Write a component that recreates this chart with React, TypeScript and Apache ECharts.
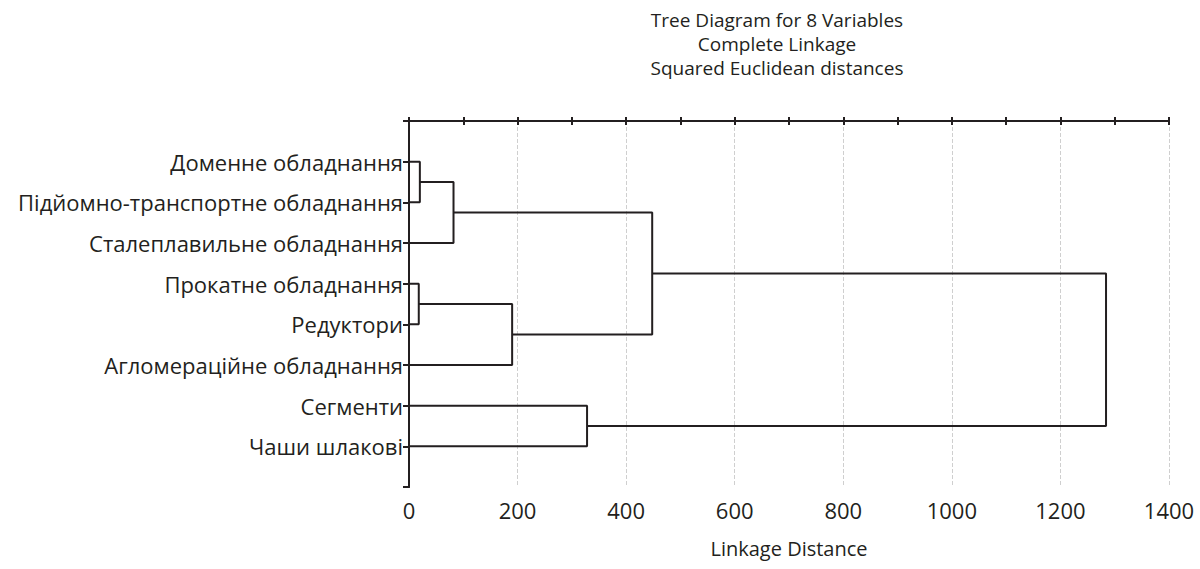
import React, { useEffect, useRef } from "react";
import * as echarts from "echarts";

const leafLabels = [
  "Доменне обладнання",
  "Підйомно-транспортне обладнання",
  "Сталеплавильне обладнання",
  "Прокатне обладнання",
  "Редуктори",
  "Агломераційне обладнання",
  "Сегменти",
  "Чаши шлакові",
];
// [clusterA, clusterB, linkage distance]; ids >= 8 refer to earlier merges
const mergeLeft = [0, 8, 3, 10, 9, 6, 12];
const mergeRight = [1, 2, 4, 5, 11, 7, 13];
const mergeHeight = [20, 82, 18, 190, 448, 328, 1284];
const xTicks = [0, 200, 400, 600, 800, 1000, 1200, 1400];
const titleLines = ["Tree Diagram for 8 Variables", "Complete Linkage", "Squared Euclidean distances"];
const xName = "Linkage Distance";

const INK = "#231f20";
const FONT = "Open Sans";

export default function App() {
  const ref = useRef<HTMLDivElement>(null);
  useEffect(() => {
    if (!ref.current) return;
    const chart = echarts.init(ref.current, null, { renderer: "svg" });
    const n = leafLabels.length;
    const pos: [number, number][] = leafLabels.map((_, i) => [0, i + 1]);
    const series: any[] = [];
    mergeHeight.forEach((h, k) => {
      const a = pos[mergeLeft[k]];
      const b = pos[mergeRight[k]];
      series.push({
        type: "line",
        symbol: "none",
        silent: true,
        xAxisIndex: 0,
        yAxisIndex: 0,
        lineStyle: { color: INK, width: 2 },
        data: [
          [a[0], a[1]],
          [h, a[1]],
          [h, b[1]],
          [b[0], b[1]],
        ],
      });
      pos.push([h, (a[1] + b[1]) / 2]);
    });
    const xMin = xTicks[0];
    const xMax = xTicks[xTicks.length - 1];
    const interval = xTicks[1] - xTicks[0];
    chart.setOption({
      animation: false,
      title: titleLines.map((t, i) => ({
        text: t,
        left: 777,
        top: 9 + i * 24,
        padding: 0,
        textAlign: "center",
        textStyle: { fontFamily: FONT, fontSize: 19, fontWeight: "normal", color: INK, lineHeight: 21 },
      })),
      grid: { left: 409, right: 31, top: 121, bottom: 82, containLabel: false },
      xAxis: [
        {
          type: "value",
          position: "bottom",
          min: xMin,
          max: xMax,
          interval,
          name: xName,
          nameLocation: "middle",
          nameGap: 51,
          nameTextStyle: { fontFamily: FONT, fontSize: 20, color: INK },
          axisLine: { show: true, lineStyle: { color: INK, width: 2 } },
          axisTick: { show: true, inside: true, length: 4, lineStyle: { color: INK, width: 2 } },
          minorTick: { show: true, splitNumber: 2, length: 4, lineStyle: { color: INK, width: 2 } },
          axisLabel: { fontFamily: FONT, fontSize: 22, color: INK, margin: 12, formatter: (v: number) => String(v) },
          splitLine: { show: true, lineStyle: { color: "#cfcfcf", type: "dashed", width: 1 } },
        },
        {
          type: "value",
          position: "top",
          min: xMin,
          max: xMax,
          interval,
          axisLine: { show: true, lineStyle: { color: INK, width: 2 } },
          axisTick: { show: true, inside: true, length: 4, lineStyle: { color: INK, width: 2 } },
          minorTick: { show: true, splitNumber: 2, length: 4, lineStyle: { color: INK, width: 2 } },
          axisLabel: { show: false },
          splitLine: { show: false },
        },
      ],
      yAxis: [
        {
          type: "value",
          position: "left",
          inverse: true,
          min: 0,
          max: n + 1,
          interval: 1,
          axisLine: { show: true, lineStyle: { color: INK, width: 2 } },
          axisTick: { show: true, inside: false, length: 3, lineStyle: { color: INK, width: 2 } },
          axisLabel: {
            fontFamily: FONT,
            fontSize: 22,
            color: INK,
            margin: 6,
            formatter: (v: number) => (v >= 1 && v <= n ? leafLabels[v - 1] : ""),
          },
          splitLine: { show: false },
        },
        {
          type: "value",
          position: "right",
          inverse: true,
          min: 0,
          max: n + 1,
          interval: 1,
          axisLine: { show: true, lineStyle: { color: INK, width: 2 } },
          axisTick: { show: true, inside: true, length: 6, lineStyle: { color: INK, width: 2 } },
          axisLabel: { show: false },
          splitLine: { show: false },
        },
      ],
      series,
    });
    return () => chart.dispose();
  }, []);
  return (
    <div
      ref={ref}
      style={{ position: "fixed", left: 0, top: 0, width: 1200, height: 569, background: "#fff" }}
    />
  );
}
